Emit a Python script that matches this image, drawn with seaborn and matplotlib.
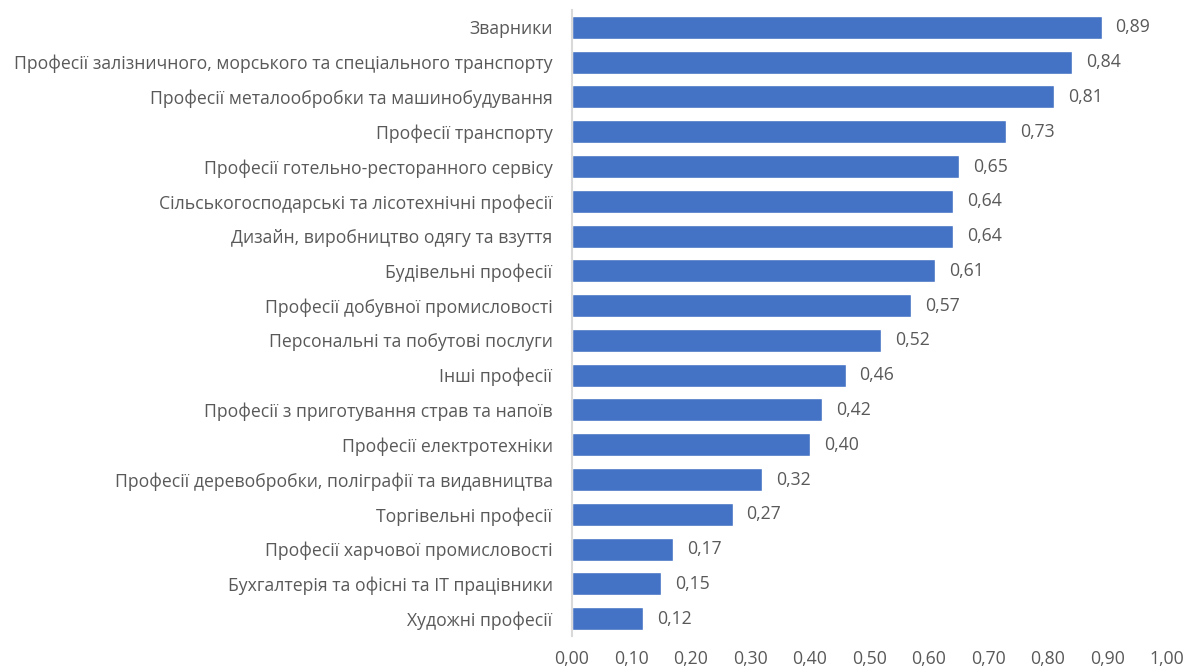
import matplotlib
matplotlib.use("Agg")
import matplotlib.pyplot as plt
import seaborn as sns
import pandas as pd
from matplotlib.ticker import FuncFormatter, MultipleLocator

categories = [
    "Зварники",
    "Професії залізничного, морського та спеціального транспорту",
    "Професії металообробки та машинобудування",
    "Професії транспорту",
    "Професії готельно-ресторанного сервісу",
    "Сільськогосподарські та лісотехнічні професії",
    "Дизайн, виробництво одягу та взуття",
    "Будівельні професії",
    "Професії добувної промисловості",
    "Персональні та побутові послуги",
    "Інші професії",
    "Професії з приготування страв та напоїв",
    "Професії електротехніки",
    "Професії деревобробки, поліграфії та видавництва",
    "Торгівельні професії",
    "Професії харчової промисловості",
    "Бухгалтерія та офісні та IT працівники",
    "Художні професії",
]
values = [0.89, 0.84, 0.81, 0.73, 0.65, 0.64, 0.64, 0.61, 0.57, 0.52,
          0.46, 0.42, 0.40, 0.32, 0.27, 0.17, 0.15, 0.12]

df = pd.DataFrame({"cat": categories, "val": values})

sns.set_theme(style="white")
plt.rcParams["font.family"] = ["Open Sans", "DejaVu Sans"]

fig = plt.figure(figsize=(11.84, 6.72), dpi=100)
ax = fig.add_axes([572 / 1184, 36 / 672, 595 / 1184, 626 / 672])

sns.barplot(data=df, y="cat", x="val", orient="h", color="#4472C4",
            saturation=1, width=0.66, ax=ax)

ax.set_xlim(0, 1.0)
ax.xaxis.set_major_locator(MultipleLocator(0.1))
ax.xaxis.set_major_formatter(FuncFormatter(lambda v, p: f"{v:.2f}".replace(".", ",")))
ax.set_xlabel("")
ax.set_ylabel("")

for s in ["top", "right", "bottom"]:
    ax.spines[s].set_visible(False)
ax.spines["left"].set_color("#D9D9D9")
ax.spines["left"].set_linewidth(1.5)

ax.tick_params(axis="y", length=0, pad=14, labelsize=12.7, labelcolor="#595959")
ax.tick_params(axis="x", length=0, pad=10, labelsize=12.7, labelcolor="#595959")

ax.bar_label(ax.containers[0],
             labels=[f"{v:.2f}".replace(".", ",") for v in values],
             padding=10, fontsize=12.7, color="#595959")

fig.savefig("out.png", dpi=100)
